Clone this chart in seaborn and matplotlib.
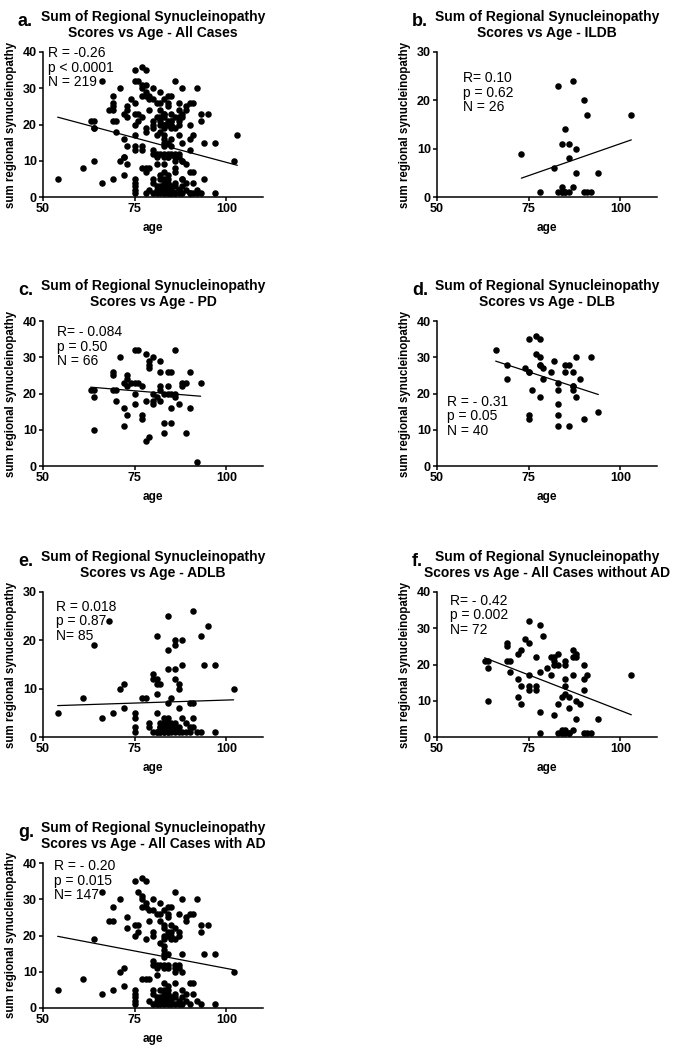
import numpy as np
import pandas as pd
import seaborn as sns
import matplotlib.pyplot as plt

# panel b - ILDB
age_b = [73, 78, 82, 83, 83, 84, 85, 86, 84, 84, 85, 86, 86, 87, 87,
         88, 88, 90, 90, 91, 92, 91, 94, 103, 84, 85]
score_b = [9, 1, 6, 23, 1, 1, 1, 1, 11, 2, 14, 11, 8, 24, 2,
           10, 5, 20, 1, 1, 1, 17, 5, 17, 1, 1]

# panel c - PD
age_c = [63, 64, 64, 64, 69, 69, 69, 70, 70, 71, 72, 72, 72, 73, 73, 73, 73,
         75, 76, 75, 76, 75, 75, 77, 77, 77, 78, 78, 78, 79, 79, 79, 79, 80, 80, 80, 80,
         81, 82, 82, 82, 82, 82,
         83, 83, 83, 84, 85, 84, 85, 86, 86, 85, 85, 86, 87, 88, 88, 89, 89, 90, 90, 92, 93,
         74, 84]
score_c = [21, 21, 19, 10, 25, 26, 21, 21, 18, 30, 16, 11, 23, 22, 25, 24, 14,
           32, 32, 23, 23, 20, 17, 22, 14, 13, 18, 31, 7, 8, 29, 28, 27, 30, 20, 18, 17,
           19, 29, 26, 22, 21, 18,
           20, 12, 9, 26, 26, 22, 20, 19, 20, 16, 12, 32, 17, 23, 22, 23, 9, 26, 16, 1, 23,
           23, 20]

# panel d - DLB
age_d = [66, 69, 69, 74, 75, 75, 77, 78, 77, 78, 78, 79, 79, 76, 78, 75, 75, 81, 82, 83,
         83, 83, 83, 83, 85, 86, 85, 87, 86, 87, 87, 88, 88, 89, 90, 92, 94, 75, 78, 87]
score_d = [32, 28, 24, 27, 26, 35, 36, 35, 31, 30, 28, 27, 24, 21, 19, 14, 13, 26, 29, 23,
           21, 17, 14, 11, 28, 28, 26, 26, 11, 22, 21, 30, 19, 24, 13, 30, 15, 26, 28, 22]

# panel e - ADLB
age_e = [54, 61, 64, 66, 68, 69, 71, 72, 72, 75, 75, 75, 75, 77, 78, 79, 79,
         80, 80, 81, 81, 81, 81, 81, 80, 81, 82, 82, 82, 83, 83, 83,
         84, 84, 84, 84, 84, 84, 84, 85, 85, 86, 86, 86, 86, 86, 87, 87, 87, 87,
         88, 88, 88, 89, 90, 90, 91, 91, 91, 91, 92, 93, 93, 94, 95, 97, 97, 102,
         81, 82, 82, 83, 83, 84, 84, 85, 85, 86, 86, 87, 88, 89, 90, 83, 82]
score_e = [5, 8, 19, 4, 24, 5, 10, 11, 6, 5, 4, 2, 1, 8, 8, 3, 2,
           13, 12, 12, 21, 11, 9, 5, 1, 1, 11, 2, 1, 3, 2, 1,
           25, 18, 14, 7, 4, 2, 1, 8, 1, 20, 19, 14, 12, 3, 11, 10, 6, 1,
           20, 15, 4, 3, 2, 7, 7, 26, 4, 2, 1, 1, 21, 15, 23, 15, 1, 10,
           1, 1, 3, 1, 2, 1, 3, 2, 3, 1, 2, 2, 1, 1, 1, 4, 2]

# panel f - all cases without AD
age_f = [63, 64, 64, 64, 69, 69, 69, 70, 70, 72, 73, 72, 72, 73, 73,
         74, 75, 75, 75, 75, 75, 77, 77, 77, 78, 78, 78, 78, 79, 80, 81,
         82, 82, 82, 83, 83, 82, 83, 83, 84, 84, 85, 84, 85, 85, 85, 85, 86, 86,
         87, 87, 88, 88, 87, 87, 88, 89, 88, 90, 90, 91, 90, 90, 91, 92, 94, 103, 85, 86,
         81, 86, 85]
score_f = [21, 21, 19, 10, 26, 25, 21, 21, 18, 23, 24, 16, 11, 14, 9,
           27, 26, 32, 17, 14, 13, 14, 13, 22, 31, 18, 7, 1, 28, 19, 17,
           22, 21, 20, 23, 20, 6, 9, 1, 1, 2, 1, 11, 20, 16, 14, 12, 11, 8,
           24, 22, 23, 22, 17, 2, 10, 9, 5, 20, 16, 17, 13, 1, 1, 1, 5, 17, 2, 1,
           22, 1, 21]

# panel g - all cases with AD
age_g = [54, 61, 64, 66, 66, 69, 69, 68, 69, 71, 71, 72, 72, 73, 73,
         75, 75, 75, 75, 75, 75, 76, 75, 76, 75, 77, 78, 76, 77, 77, 78, 77, 78, 79, 80, 79, 78,
         77, 78, 79, 80, 81, 80, 80, 80, 81, 80, 81, 80, 80, 81,
         82, 82, 82, 82, 83, 83, 83, 83, 83, 83, 83, 83, 83, 83, 83, 83, 83, 83, 83, 83, 82, 82, 82,
         84, 85, 84, 84, 84, 85, 85, 84, 84, 84, 84, 85, 86, 86, 86, 86, 86, 86, 86, 86, 87, 87, 87, 87,
         88, 88, 88, 89, 89, 89, 89, 90, 90, 91, 90, 91, 91, 92, 92, 93, 93, 93, 94, 95, 97, 97, 102,
         79, 80, 81, 81, 85, 85, 86,
         82, 84, 84, 85, 87, 87, 84, 84, 84, 85, 86, 87, 88, 88, 82, 81, 83, 84, 88]
score_g = [5, 8, 19, 32, 4, 5, 28, 24, 24, 30, 10, 11, 6, 25, 22,
           5, 4, 3, 2, 1, 23, 23, 20, 21, 35, 36, 35, 32, 31, 30, 29, 28, 28, 27, 30, 24, 19,
           8, 8, 8, 27, 26, 20, 21, 13, 12, 12, 11, 5, 4, 9,
           29, 26, 18, 24, 23, 22, 19, 17, 20, 16, 15, 14, 12, 11, 7, 5, 4, 3, 2, 1, 3, 2, 1,
           28, 28, 26, 25, 20, 20, 21, 15, 6, 3, 1, 23, 22, 32, 19, 12, 11, 10, 7, 3, 2, 21, 20, 26,
           30, 15, 5, 4, 25, 24, 2, 1, 26, 26, 7, 7, 4, 30, 2, 1, 23, 21, 15, 23, 15, 1, 10,
           2, 1, 2, 1, 2, 1, 1,
           12, 12, 11, 19, 11, 12, 2, 4, 5, 3, 4, 1, 1, 3, 5, 3, 27, 21, 10]

# panel a - all cases (without AD + with AD)
age_a = age_f + age_g
score_a = score_f + score_g

subtitles = ["All Cases", "ILDB", "PD", "DLB", "ADLB", "All Cases without AD", "All Cases with AD"]
letters = ["a.", "b.", "c.", "d.", "e.", "f.", "g."]
stats = ["R = -0.26\np < 0.0001\nN = 219",
         "R= 0.10\np = 0.62\nN = 26",
         "R= - 0.084\np = 0.50\nN = 66",
         "R = - 0.31\np = 0.05\nN = 40",
         "R = 0.018\np = 0.87\nN= 85",
         "R= - 0.42\np = 0.002\nN= 72",
         "R = - 0.20\np = 0.015\nN= 147"]
ymax = [40, 30, 40, 40, 30, 40, 40]
ages = [age_a, age_b, age_c, age_d, age_e, age_f, age_g]
scores = [score_a, score_b, score_c, score_d, score_e, score_f, score_g]

# where the stats text goes (data coords, top-left)
stat_pos = [(51.5, 41.6), (57, 26), (53.8, 38.9), (52.7, 19.7), (53.5, 28.4), (53.6, 39.5), (53, 41.1)]

sns.set_theme(style="ticks")
plt.rcParams['font.family'] = ['Liberation Sans', 'DejaVu Sans']
plt.rcParams['text.color'] = 'black'
plt.rcParams['axes.labelcolor'] = 'black'
plt.rcParams['xtick.color'] = 'black'
plt.rcParams['ytick.color'] = 'black'

W, H = 690, 1050
fig = plt.figure(figsize=(W / 100, H / 100), dpi=100)

lefts = [43, 437]
tops = [52, 321, 592, 863]
aw, ah = 220, 145

for i in range(7):
    row, col = divmod(i, 2)
    l, t = lefts[col], tops[row]
    ax = fig.add_axes([l / W, 1 - (t + ah) / H, aw / W, ah / H])
    df = pd.DataFrame({"age": ages[i], "score": scores[i]})
    sns.regplot(data=df, x="age", y="score", ax=ax, ci=None,
                scatter_kws=dict(s=22, color="black", linewidths=0, alpha=1, clip_on=False),
                line_kws=dict(color="black", lw=0.9))
    ax.set_xlim(50, 110)
    ax.set_ylim(0, ymax[i])
    ax.set_xticks([50, 75, 100])
    ax.set_yticks(np.arange(0, ymax[i] + 1, 10))
    sns.despine(ax=ax)
    for s in ["left", "bottom"]:
        ax.spines[s].set_linewidth(1.1)
        ax.spines[s].set_color("black")
    ax.tick_params(length=3, width=1.1, pad=1.5, labelsize=9, colors="black")
    for lab in ax.get_xticklabels() + ax.get_yticklabels():
        lab.set_fontweight("bold")
    ax.set_xlabel("age", fontsize=8.5, fontweight="bold", color="black")
    ax.xaxis.set_label_coords(0.5, -0.17)
    ax.set_ylabel("sum regional synucleinopathy", fontsize=8.3, fontweight="bold", color="black")
    ax.yaxis.set_label_coords(-0.118, 0.5)
    ax.set_title("Sum of Regional Synucleinopathy\nScores vs Age - " + subtitles[i],
                 fontsize=10, fontweight="bold", pad=11, linespacing=1.2, color="black")
    ax.text(-0.114, 1.18, letters[i], transform=ax.transAxes, fontsize=13,
            fontweight="bold", ha="left", va="baseline", color="black")
    ax.text(stat_pos[i][0], stat_pos[i][1], stats[i], fontsize=10, ha="left", va="top",
            linespacing=1.05, color="black")

fig.savefig("out.png", dpi=100)
